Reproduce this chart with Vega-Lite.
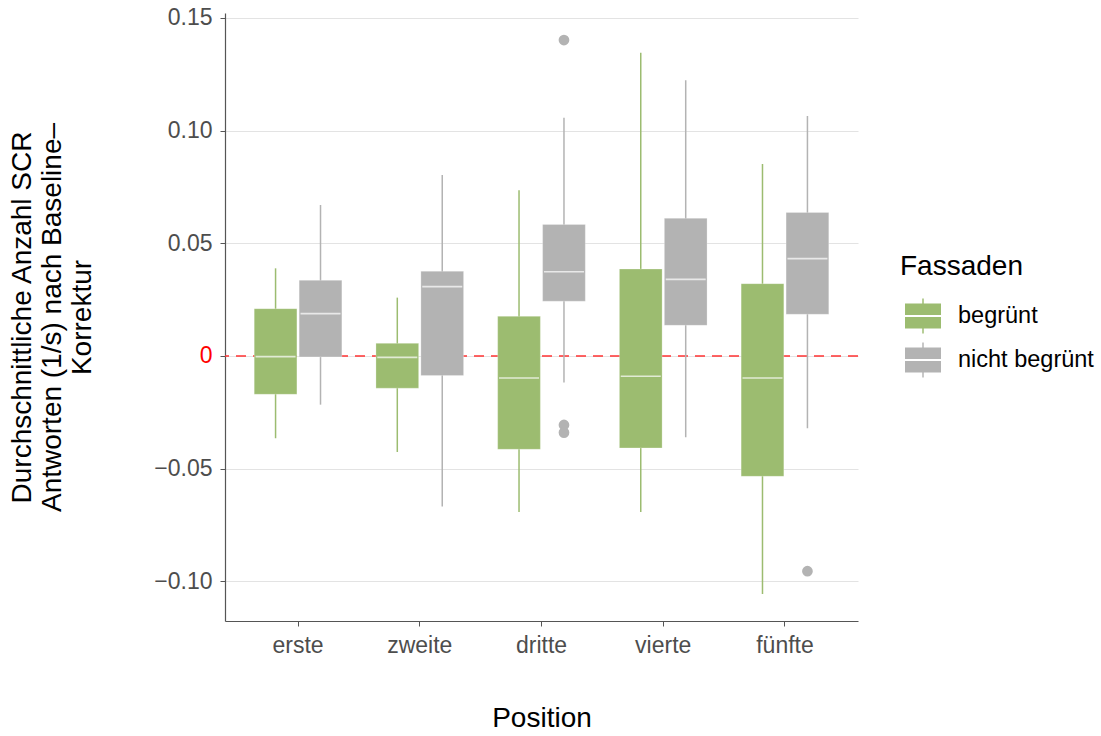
{
  "$schema": "https://vega.github.io/schema/vega-lite/v6.json",
  "width": 633,
  "height": 608,
  "autosize": {"type": "none"},
  "padding": {"left": 225, "top": 13, "right": 243, "bottom": 115},
  "background": "white",
  "config": {
    "font": "Liberation Sans",
    "view": {"stroke": null},
    "axis": {
      "labelFont": "Liberation Sans",
      "titleFont": "Liberation Sans",
      "labelFontSize": 23,
      "labelColor": "#4D4D4D",
      "titleFontSize": 28,
      "titleFontWeight": "normal",
      "titleColor": "#000000",
      "domainColor": "#555555",
      "domainWidth": 1.2,
      "tickColor": "#555555",
      "tickSize": 5,
      "gridColor": "#E3E3E3",
      "gridWidth": 1
    },
    "legend": {
      "labelFont": "Liberation Sans",
      "titleFont": "Liberation Sans"
    }
  },
  "datasets": {
    "boxes": [
      {"Position": "erste", "Fassaden": "begrünt", "lower": -0.0365, "q1": -0.0170, "median": -0.0003, "q3": 0.0210, "upper": 0.0389},
      {"Position": "erste", "Fassaden": "nicht begrünt", "lower": -0.0216, "q1": -0.0004, "median": 0.0188, "q3": 0.0336, "upper": 0.0670},
      {"Position": "zweite", "Fassaden": "begrünt", "lower": -0.0426, "q1": -0.0143, "median": -0.0006, "q3": 0.0056, "upper": 0.0259},
      {"Position": "zweite", "Fassaden": "nicht begrünt", "lower": -0.0668, "q1": -0.0087, "median": 0.0308, "q3": 0.0376, "upper": 0.0803},
      {"Position": "dritte", "Fassaden": "begrünt", "lower": -0.0692, "q1": -0.0414, "median": -0.0098, "q3": 0.0176, "upper": 0.0736},
      {"Position": "dritte", "Fassaden": "nicht begrünt", "lower": -0.0118, "q1": 0.0243, "median": 0.0374, "q3": 0.0584, "upper": 0.1057},
      {"Position": "vierte", "Fassaden": "begrünt", "lower": -0.0692, "q1": -0.0408, "median": -0.0090, "q3": 0.0386, "upper": 0.1346},
      {"Position": "vierte", "Fassaden": "nicht begrünt", "lower": -0.0361, "q1": 0.0136, "median": 0.0340, "q3": 0.0611, "upper": 0.1224},
      {"Position": "fünfte", "Fassaden": "begrünt", "lower": -0.1056, "q1": -0.0534, "median": -0.0098, "q3": 0.0321, "upper": 0.0852},
      {"Position": "fünfte", "Fassaden": "nicht begrünt", "lower": -0.0321, "q1": 0.0185, "median": 0.0432, "q3": 0.0637, "upper": 0.1065}
    ],
    "outliers": [
      {"Position": "dritte", "Fassaden": "nicht begrünt", "value": 0.1402},
      {"Position": "dritte", "Fassaden": "nicht begrünt", "value": -0.0306},
      {"Position": "dritte", "Fassaden": "nicht begrünt", "value": -0.0340},
      {"Position": "fünfte", "Fassaden": "nicht begrünt", "value": -0.0955}
    ],
    "zero": [{"y": 0}]
  },
  "encoding": {
    "x": {
      "field": "Position",
      "type": "nominal",
      "sort": ["erste", "zweite", "dritte", "vierte", "fünfte"],
      "scale": {"domain": ["erste", "zweite", "dritte", "vierte", "fünfte"], "paddingInner": 0.28, "paddingOuter": 0.24},
      "axis": {
        "title": "Position",
        "labelAngle": 0,
        "labelPadding": 8,
        "titlePadding": 47,
        "grid": false,
        "tickSize": 5
      }
    }
  },
  "layer": [
    {
      "data": {"name": "zero"},
      "mark": {"type": "rule", "color": "#FF3333", "strokeDash": [10, 7], "strokeWidth": 1.3},
      "encoding": {
        "x": null,
        "y": {
          "field": "y",
          "type": "quantitative",
          "scale": {"domain": [-0.1176, 0.1522], "nice": false, "zero": false},
          "axis": {
            "title": ["Durchschnittliche Anzahl SCR", "Antworten (1/s) nach Baseline–", "Korrektur"],
            "values": [-0.1, -0.05, 0, 0.05, 0.1, 0.15],
            "labelExpr": "datum.value == 0 ? '0' : replace(format(datum.value, '.2f'), '-', '−')",
            "labelColor": {"condition": {"test": "datum.value == 0", "value": "#FF0000"}, "value": "#4D4D4D"},
            "labelPadding": 8,
            "grid": true,
            "titleAngle": -90,
            "titleAlign": "center",
            "titleBaseline": "top",
            "titleLineHeight": 30,
            "titleX": -217,
            "titleY": 304
          }
        }
      }
    },
    {
      "data": {"name": "boxes"},
      "mark": {"type": "rule", "strokeWidth": 1.5},
      "encoding": {
        "xOffset": {"field": "Fassaden", "type": "nominal", "scale": {"paddingInner": 0.05, "paddingOuter": 0}},
        "y": {"field": "lower", "type": "quantitative"},
        "y2": {"field": "upper"},
        "color": {"field": "Fassaden", "type": "nominal"}
      }
    },
    {
      "data": {"name": "boxes"},
      "mark": {"type": "bar", "stroke": "#FFFFFF", "strokeOpacity": 0.25, "strokeWidth": 1},
      "encoding": {
        "xOffset": {"field": "Fassaden", "type": "nominal"},
        "y": {"field": "q1", "type": "quantitative"},
        "y2": {"field": "q3"},
        "color": {
          "field": "Fassaden",
          "type": "nominal",
          "scale": {"domain": ["begrünt", "nicht begrünt"], "range": ["#9CBC70", "#B3B3B3"]},
          "legend": {
            "title": "Fassaden",
            "orient": "none",
            "legendX": 675,
            "legendY": 240,
            "titleFontSize": 28,
            "titleFontWeight": "normal",
            "titleColor": "#000000",
            "titlePadding": 17,
            "labelFontSize": 23.5,
            "labelColor": "#000000",
            "labelOffset": 17,
            "symbolOffset": 5,
            "rowPadding": 8,
            "symbolSize": 1296,
            "symbolStrokeWidth": 0,
            "symbolType": "M-1,-0.69L1,-0.69L1,-0.055L-1,-0.055Z M-1,0.055L1,0.055L1,0.69L-1,0.69Z M-0.04,-0.97L0.04,-0.97L0.04,-0.69L-0.04,-0.69Z M-0.04,0.69L0.04,0.69L0.04,0.97L-0.04,0.97Z"
          }
        }
      }
    },
    {
      "data": {"name": "boxes"},
      "mark": {"type": "tick", "color": "#FFFFFF", "size": 40, "thickness": 1.6, "orient": "horizontal"},
      "encoding": {
        "xOffset": {"field": "Fassaden", "type": "nominal"},
        "y": {"field": "median", "type": "quantitative"}
      }
    },
    {
      "data": {"name": "outliers"},
      "mark": {"type": "point", "filled": true, "size": 115, "opacity": 1},
      "encoding": {
        "xOffset": {"field": "Fassaden", "type": "nominal"},
        "y": {"field": "value", "type": "quantitative"},
        "color": {"field": "Fassaden", "type": "nominal"}
      }
    }
  ]
}
